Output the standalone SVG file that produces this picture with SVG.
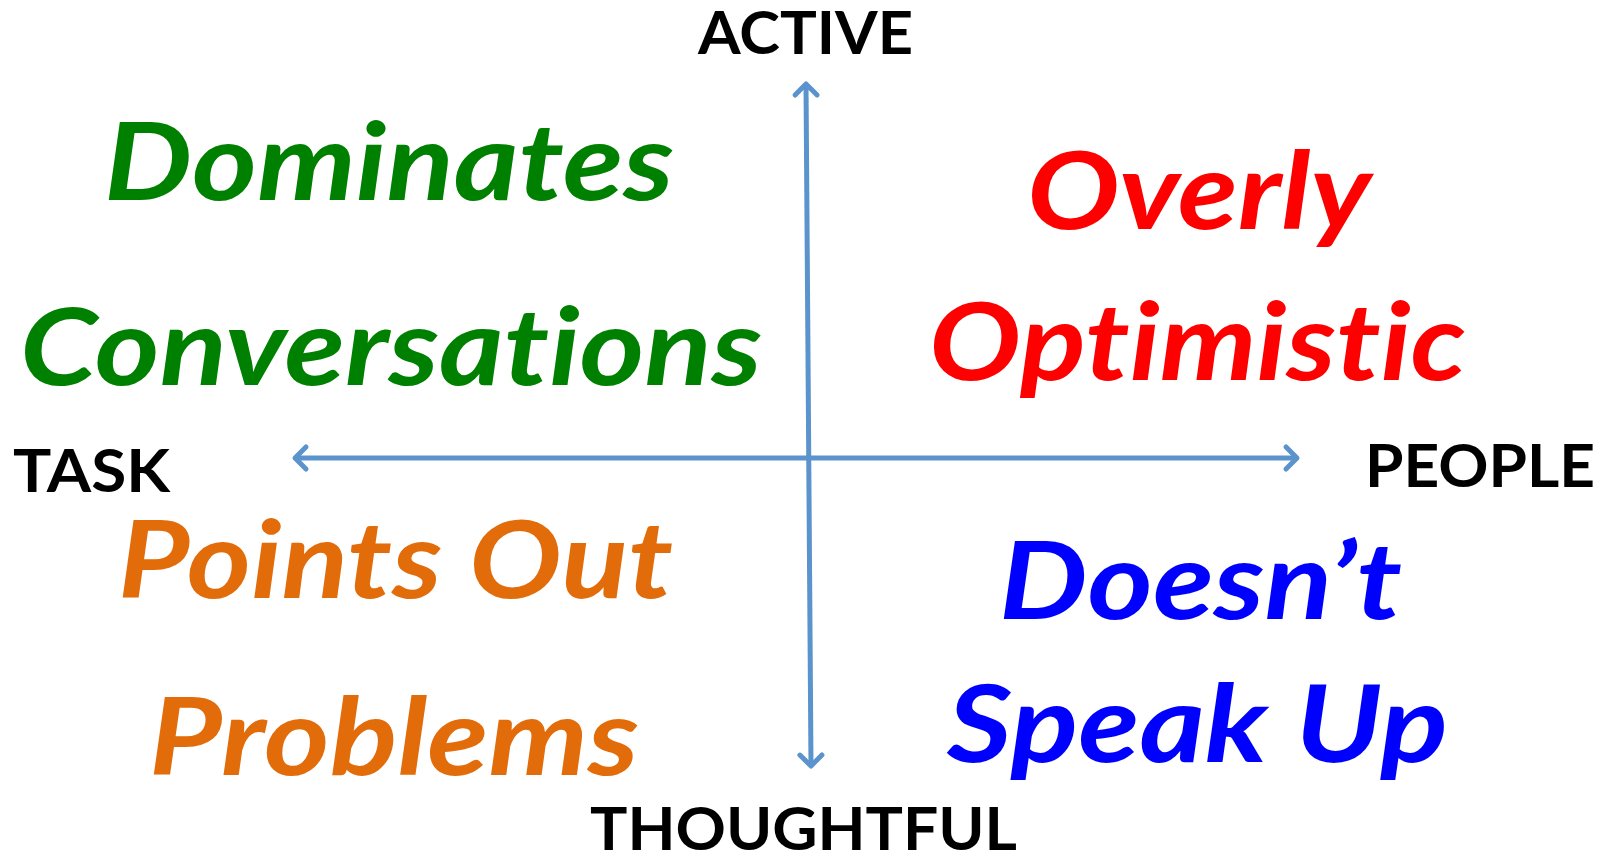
<svg xmlns="http://www.w3.org/2000/svg" width="1610" height="858" viewBox="0 0 1610 858">
<style>
text{font-variant-ligatures:none;font-feature-settings:"liga" 0,"clig" 0}
.axis{font-family:Lato,"Open Sans","Liberation Sans",sans-serif;font-weight:bold;font-size:59px;fill:#000}
.big{font-family:Lato,"Open Sans","Liberation Sans",sans-serif;font-weight:bold;font-style:italic;font-size:108px}
.green{fill:#008000}.red{fill:#ff0000}.orange{fill:#e36c0a}.blue{fill:#0000ff}
.conn{stroke:#5b93cc;stroke-width:5;fill:none}
</style>
<defs>
<marker id="head" markerUnits="userSpaceOnUse" markerWidth="40" markerHeight="40" viewBox="-20 -20 40 40" refX="0" refY="0" orient="auto-start-reverse" overflow="visible">
<path d="M -11 -11 L 0 0 L -11 11" fill="none" stroke="#5b93cc" stroke-width="5" stroke-linecap="round" stroke-linejoin="round"/>
</marker>
</defs>
<rect width="1610" height="858" fill="#fff"/>
<g id="connectors">
<path class="conn" d="M 806 84 L 811 766" marker-start="url(#head)" marker-end="url(#head)"/>
<path class="conn" d="M 295 458 L 1297 458" marker-start="url(#head)" marker-end="url(#head)"/>
</g>
<g id="active"><text class="axis" x="698" y="54" textLength="215" lengthAdjust="spacingAndGlyphs">ACTIVE</text></g>
<g id="task"><text class="axis" x="13" y="492" textLength="157" lengthAdjust="spacingAndGlyphs">TASK</text></g>
<g id="people"><text class="axis" x="1365" y="487" textLength="230" lengthAdjust="spacingAndGlyphs">PEOPLE</text></g>
<g id="thoughtful"><text class="axis" x="590" y="850" textLength="427" lengthAdjust="spacingAndGlyphs">THOUGHTFUL</text></g>
<g id="dominates"><text class="big green" x="104" y="200" textLength="570" lengthAdjust="spacingAndGlyphs">Dominates</text></g>
<g id="conversations"><text class="big green" x="20" y="385" textLength="742" lengthAdjust="spacingAndGlyphs">Conversations</text></g>
<g id="overly"><text class="big red" x="1027" y="229" textLength="344" lengthAdjust="spacingAndGlyphs">Overly</text></g>
<g id="optimistic"><text class="big red" x="929" y="380" textLength="537" lengthAdjust="spacingAndGlyphs">Optimistic</text></g>
<g id="points-out"><text class="big orange" x="118" y="598" textLength="555" lengthAdjust="spacingAndGlyphs">Points Out</text></g>
<g id="problems"><text class="big orange" x="149" y="775" textLength="490" lengthAdjust="spacingAndGlyphs">Problems</text></g>
<g id="doesnt"><text class="big blue" x="999" y="619" textLength="403" lengthAdjust="spacingAndGlyphs">Doesn’t</text></g>
<g id="speak-up"><text class="big blue" x="947" y="762" textLength="501" lengthAdjust="spacingAndGlyphs">Speak Up</text></g>
</svg>
